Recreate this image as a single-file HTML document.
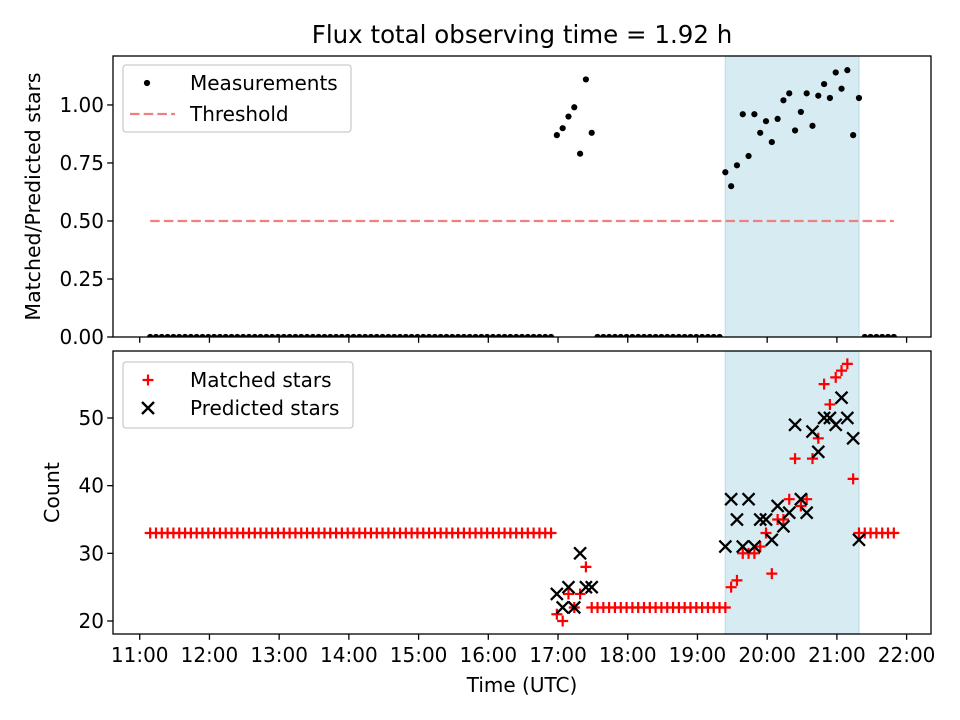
<!DOCTYPE html>
<html><head><meta charset="utf-8"><style>
html,body{margin:0;padding:0;background:#fff;}
svg{display:block;font-family:"DejaVu Sans","Liberation Sans",sans-serif;}
</style></head><body>
<svg id="chart" width="960" height="720" viewBox="0 0 960 720" xmlns="http://www.w3.org/2000/svg"></svg>
<script>
// time in minutes since midnight (UTC)
const times = [669,674,679,684,689,694,699,704,709,714,
719,724,729,734,739,744,749,754,759,764,
769,774,779,784,789,794,799,804,809,814,
819,824,829,834,839,844,849,854,859,864,
869,874,879,884,889,894,899,904,909,914,
919,924,929,934,939,944,949,954,959,964,
969,974,979,984,989,994,999,1004,1009,1014,
1019,1024,1029,1034,1039,1044,1049,
1054,1059,1064,1069,1074,1079,1084,1089,1094,1099,1104,1109,1114,1119,1124,1129,1134,1139,1144,1149,1154,1159,
1164,1169,1174,1179,1184,1189,1194,1199,1204,1209,1214,1219,1224,1229,1234,1239,1244,1249,1254,1259,1264,1269,1274,1279,
1284,1289,1294,1299,1304,1309];
const ratio = [0,0,0,0,0,0,0,0,0,0, 0,0,0,0,0,0,0,0,0,0, 0,0,0,0,0,0,0,0,0,0, 0,0,0,0,0,0,0,0,0,0,
0,0,0,0,0,0,0,0,0,0, 0,0,0,0,0,0,0,0,0,0, 0,0,0,0,0,0,0,0,0,0,
0.87,0.90,0.95,0.99,0.79,1.11,0.88,
0,0,0,0,0,0,0,0,0,0,0,0,0,0,0,0,0,0,0,0,0,0,
0.71,0.65,0.74,0.96,0.78,0.96,0.88,0.93,0.84,0.94,1.02,1.05,0.89,0.97,1.05,0.91,1.04,1.09,1.03,1.14,1.07,1.15,0.87,1.03,
0,0,0,0,0,0];
const matched = [33,33,33,33,33,33,33,33,33,33, 33,33,33,33,33,33,33,33,33,33, 33,33,33,33,33,33,33,33,33,33, 33,33,33,33,33,33,33,33,33,33,
33,33,33,33,33,33,33,33,33,33, 33,33,33,33,33,33,33,33,33,33, 33,33,33,33,33,33,33,33,33,33,
21,20,24,22,24,28,22,
22,22,22,22,22,22,22,22,22,22,22,22,22,22,22,22,22,22,22,22,22,22,
22,25,26,30,30,30,31,33,27,35,35,38,44,37,38,44,47,55,52,56,57,58,41,33,
33,33,33,33,33,33];
const predicted = [null,null,null,null,null,null,null,null,null,null, null,null,null,null,null,null,null,null,null,null,
null,null,null,null,null,null,null,null,null,null, null,null,null,null,null,null,null,null,null,null,
null,null,null,null,null,null,null,null,null,null, null,null,null,null,null,null,null,null,null,null,
null,null,null,null,null,null,null,null,null,null,
24,22,25,22,30,25,25,
null,null,null,null,null,null,null,null,null,null,null,null,null,null,null,null,null,null,null,null,null,null,
31,38,35,31,38,31,35,35,32,37,34,36,49,38,36,48,45,50,50,49,53,50,47,32,
null,null,null,null,null,null];
const threshold = 0.5;
const spanStart = 1164, spanEnd = 1279;
const xTicks = [660,720,780,840,900,960,1020,1080,1140,1200,1260,1320];
const xTickLabels = ["11:00","12:00","13:00","14:00","15:00","16:00","17:00","18:00","19:00","20:00","21:00","22:00"];
const topTicks = [0,0.25,0.5,0.75,1.0];
const topTickLabels = ["0.00","0.25","0.50","0.75","1.00"];
const botTicks = [20,30,40,50];
const botTickLabels = ["20","30","40","50"];

const NS="http://www.w3.org/2000/svg";
const svg=document.getElementById('chart');
function el(tag,attrs,parent){const e=document.createElementNS(NS,tag);for(const k in attrs)e.setAttribute(k,attrs[k]);(parent||svg).appendChild(e);return e;}
const L=113,R=931,T1=56,B1=337,T2=351,B2=634;
const FS=20;
const xMin=637,xMax=1341;
const xS=t=>L+(t-xMin)/(xMax-xMin)*(R-L);
const yTop=v=>B1-(v-0)/(1.211-0)*(B1-T1);
const yBot=v=>B2-(v-18.08)/(59.9-18.08)*(B2-T2);

const defs=el('defs',{});
const c1=el('clipPath',{id:'c1'},defs);el('rect',{x:L,y:T1,width:R-L,height:B1-T1},c1);
const c2=el('clipPath',{id:'c2'},defs);el('rect',{x:L,y:T2,width:R-L,height:B2-T2},c2);

// title
let t=el('text',{x:(L+R)/2,y:43,'text-anchor':'middle','font-size':24.5,fill:'#000'});
t.textContent='Flux total observing time = 1.92 h';



// spans
let s1=el('rect',{x:xS(spanStart),y:T1,width:xS(spanEnd)-xS(spanStart),height:B1-T1,fill:'#d6ebf2',stroke:'#c3e0ea','stroke-width':1.3});


let s2=el('rect',{x:xS(spanStart),y:T2,width:xS(spanEnd)-xS(spanStart),height:B2-T2,fill:'#d6ebf2',stroke:'#c3e0ea','stroke-width':1.3});



// top panel marks
const g1=el('g',{'clip-path':'url(#c1)'});


let th=el('line',{x1:xS(times[0]),x2:xS(times[times.length-1]),y1:yTop(threshold),y2:yTop(threshold),stroke:'#f08080','stroke-width':2.3,'stroke-dasharray':'9.5,4.2'},g1);


for(let i=0;i<times.length;i++){
  const d=el('circle',{cx:xS(times[i]),cy:yTop(ratio[i]),r:3.1,fill:'#000'},g1);
  
  
}
// bottom marks
const g2=el('g',{'clip-path':'url(#c2)'});


function plus(x,y,p){return el('path',{d:`M${x-5.5},${y}H${x+5.5}M${x},${y-5.5}V${y+5.5}`,stroke:'#ff0000','stroke-width':2.2,fill:'none'},p);}
function cross(x,y,p){return el('path',{d:`M${x-6},${y-6}L${x+6},${y+6}M${x-6},${y+6}L${x+6},${y-6}`,stroke:'#000','stroke-width':2.3,fill:'none'},p);}
for(let i=0;i<times.length;i++){
  const m=plus(xS(times[i]),yBot(matched[i]),g2);
  
  
}
for(let i=0;i<times.length;i++){
  if(predicted[i]===null)continue;
  const p=cross(xS(times[i]),yBot(predicted[i]),g2);
  
  
}

// axes frames
let f1=el('rect',{x:L,y:T1,width:R-L,height:B1-T1,fill:'none',stroke:'#000','stroke-width':1.3});


let f2=el('rect',{x:L,y:T2,width:R-L,height:B2-T2,fill:'none',stroke:'#000','stroke-width':1.3});



// x ticks
for(let i=0;i<xTicks.length;i++){
  const x=xS(xTicks[i]);
  const a=el('line',{x1:x,x2:x,y1:B1,y2:B1+5.8,stroke:'#000','stroke-width':1.3});
  
  
  const b=el('line',{x1:x,x2:x,y1:B2,y2:B2+5.8,stroke:'#000','stroke-width':1.3});
  
  
  const l=el('text',{x:x,y:662,'text-anchor':'middle','font-size':FS,fill:'#000'});
  l.textContent=xTickLabels[i];
  
  
}
for(let i=0;i<topTicks.length;i++){
  const y=yTop(topTicks[i]);
  const a=el('line',{x1:L-5.8,x2:L,y1:y,y2:y,stroke:'#000','stroke-width':1.3});
  
  
  const l=el('text',{x:L-9,y:y+7,'text-anchor':'end','font-size':FS,fill:'#000'});
  l.textContent=topTickLabels[i];
  
  
}
for(let i=0;i<botTicks.length;i++){
  const y=yBot(botTicks[i]);
  const a=el('line',{x1:L-5.8,x2:L,y1:y,y2:y,stroke:'#000','stroke-width':1.3});
  
  
  const l=el('text',{x:L-9,y:y+7,'text-anchor':'end','font-size':FS,fill:'#000'});
  l.textContent=botTickLabels[i];
  
  
}
// axis labels
let xl=el('text',{x:(L+R)/2,y:692,'text-anchor':'middle','font-size':FS,fill:'#000'});
xl.textContent='Time (UTC)';


let yl1=el('text',{x:0,y:0,'text-anchor':'middle','font-size':20.5,fill:'#000',transform:`translate(40,${(T1+B1)/2}) rotate(-90)`});
yl1.textContent='Matched/Predicted stars';


let yl2=el('text',{x:0,y:0,'text-anchor':'middle','font-size':20.5,fill:'#000',transform:`translate(59,${(T2+B2)/2}) rotate(-90)`});
yl2.textContent='Count';



// legends
const lg1=el('g',{});


el('rect',{x:123,y:65,width:228,height:67,rx:3,fill:'#fff','fill-opacity':0.8,stroke:'#ccc','stroke-width':1.3},lg1);
el('circle',{cx:147,cy:83,r:3.1,fill:'#000'},lg1);
let lt1=el('text',{x:190,y:90,'font-size':FS,fill:'#000'},lg1);lt1.textContent='Measurements';


el('line',{x1:130,x2:175,y1:114,y2:114,stroke:'#f08080','stroke-width':2.3,'stroke-dasharray':'9.5,4.2'},lg1);
let lt2=el('text',{x:190,y:121,'font-size':FS,fill:'#000'},lg1);lt2.textContent='Threshold';



const lg2=el('g',{});


el('rect',{x:123,y:362,width:230,height:66,rx:3,fill:'#fff','fill-opacity':0.8,stroke:'#ccc','stroke-width':1.3},lg2);
plus(148,380,lg2);
let lt3=el('text',{x:190,y:387,'font-size':FS,fill:'#000'},lg2);lt3.textContent='Matched stars';


cross(148,408,lg2);
let lt4=el('text',{x:190,y:415,'font-size':FS,fill:'#000'},lg2);lt4.textContent='Predicted stars';


</script>
</body></html>
